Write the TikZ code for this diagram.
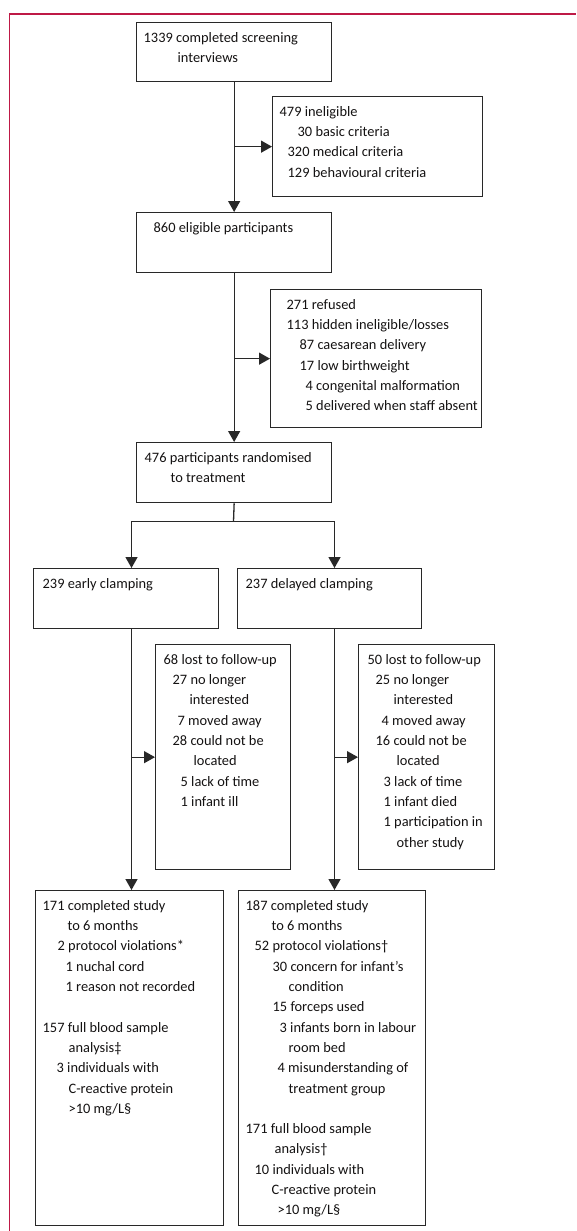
\documentclass[tikz,border=0pt]{standalone}
\usepackage{fontspec}
\setmainfont{Carlito}
\usetikzlibrary{arrows.meta, positioning}

\definecolor{framered}{RGB}{190,25,70}
\definecolor{boxline}{RGB}{40,40,40}
\definecolor{inktext}{RGB}{20,18,18}

% box contents: width, height (pt), lines
\newcommand{\boxbody}[3]{%
  \begin{minipage}[t][#2pt][t]{#1pt}%
    \setlength{\parindent}{0pt}\setlength{\leftskip}{7pt}%
    \vspace*{5.5pt}#3%
  \end{minipage}}
% one text line with its indent (pt)
\newcommand{\itemline}[2]{\hspace*{#1pt}\strut#2\par}

\begin{document}
\begin{tikzpicture}[x=1pt, y=-1pt,
    flowbox/.style={draw=boxline, line width=1.3pt, inner sep=0pt, anchor=north west,
                    font=\fontsize{14.4pt}{20.3pt}\selectfont, text=inktext},
    arr/.style={-{Triangle[length=11pt, width=12pt]}, line width=1.3pt, draw=boxline},
    link/.style={line width=1.3pt, draw=boxline}]

  \useasboundingbox (0,0) rectangle (576,1231);

  % === Frame ===
  \draw[framered, line width=1.3pt] (9.5,1231) -- (9.5,14) -- (576,14);

  % === Enrolment column ===
  \node[flowbox] (screen) at (136,22) {\boxbody{195}{59}{%
    \itemline{0}{1339 completed screening}
    \itemline{34}{interviews}}};
  \node[flowbox] (inelig) at (272,96) {\boxbody{210}{100}{%
    \itemline{0}{479 ineligible}
    \itemline{18}{30 basic criteria}
    \itemline{8}{320 medical criteria}
    \itemline{8}{129 behavioural criteria}}};
  \node[flowbox] (eligible) at (136,212) {\boxbody{195}{60}{%
    \itemline{10}{860 eligible participants}}};
  \node[flowbox] (refused) at (270,289) {\boxbody{211}{138}{%
    \itemline{9}{271 refused}
    \itemline{9}{113 hidden ineligible/losses}
    \itemline{22}{87 caesarean delivery}
    \itemline{22}{17 low birthweight}
    \itemline{28}{4 congenital malformation}
    \itemline{28}{5 delivered when staff absent}}};
  \node[flowbox] (random) at (136,442) {\boxbody{195}{60}{%
    \itemline{1}{476 participants randomised}
    \itemline{27}{to treatment}}};

  % === Allocation ===
  \node[flowbox] (early) at (33,568) {\boxbody{185}{60}{%
    \itemline{2}{239 early clamping}}};
  \node[flowbox] (delayed) at (237,568) {\boxbody{184}{60}{%
    \itemline{1}{237 delayed clamping}}};

  % === Follow-up losses ===
  \node[flowbox] (lostE) at (155,644) {\boxbody{135}{225}{%
    \itemline{1}{68 lost to follow-up}
    \itemline{10}{27 no longer}
    \itemline{27}{interested}
    \itemline{15}{7 moved away}
    \itemline{10}{28 could not be}
    \itemline{31}{located}
    \itemline{18}{5 lack of time}
    \itemline{18}{1 infant ill}}};
  \node[flowbox] (lostD) at (358,644) {\boxbody{136}{225}{%
    \itemline{2}{50 lost to follow-up}
    \itemline{10}{25 no longer}
    \itemline{28}{interested}
    \itemline{16}{4 moved away}
    \itemline{10}{16 could not be}
    \itemline{31}{located}
    \itemline{18}{3 lack of time}
    \itemline{18}{1 infant died}
    \itemline{18}{1 participation in}
    \itemline{31}{other study}}};

  % === Completed ===
  \node[flowbox] (compE) at (35,890) {\boxbody{188}{335}{%
    \itemline{0}{171 completed study}
    \itemline{25}{to 6 months}
    \itemline{15}{2 protocol violations*}
    \itemline{23}{1 nuchal cord}
    \itemline{23}{1 reason not recorded}
    \itemline{0}{}
    \itemline{0}{157 full blood sample}
    \itemline{26}{analysis‡}
    \itemline{14}{3 individuals with}
    \itemline{26}{C-reactive protein}
    \itemline{26}{>10 mg/L§}}};
  \node[flowbox] (compD) at (238,890) {\boxbody{187}{335}{%
    \itemline{0}{187 completed study}
    \itemline{26}{to 6 months}
    \itemline{9}{52 protocol violations†}
    \itemline{27}{30 concern for infant’s}
    \itemline{43}{condition}
    \itemline{27}{15 forceps used}
    \itemline{34}{3 infants born in labour}
    \itemline{43}{room bed}
    \itemline{32}{4 misunderstanding of}
    \itemline{43}{treatment group}
    \itemline{0}{}
    \itemline{0}{171 full blood sample}
    \itemline{29}{analysis†}
    \itemline{9}{10 individuals with}
    \itemline{26}{C-reactive protein}
    \itemline{32}{>10 mg/L§}}};

  % === Connectors: main flow ===
  \draw[arr] (screen.south) -- (eligible.north);
  \draw[arr] (screen.south |- inelig.west) -- (inelig.west);
  \draw[arr] (eligible.south) -- (random.north);
  \draw[arr] (eligible.south |- refused.west) -- (refused.west);

  % split into the two arms
  \coordinate (split) at (233.5,521.5);
  \coordinate (splitE) at (131.5,521.5);
  \coordinate (splitD) at (334.5,521.5);
  \draw[link] (random.south) -- (split);
  \draw[link, line cap=rect] (splitE) -- (splitD);
  \draw[arr] (splitE) -- (splitE |- early.north);
  \draw[arr] (splitD) -- (splitD |- delayed.north);

  % arms down to completion
  \draw[arr] (splitE |- early.south) -- (splitE |- compE.north);
  \draw[arr] (splitE |- lostE.west) -- (lostE.west);
  \draw[arr] (splitD |- delayed.south) -- (splitD |- compD.north);
  \draw[arr] (splitD |- lostD.west) -- (lostD.west);

\end{tikzpicture}
\end{document}
